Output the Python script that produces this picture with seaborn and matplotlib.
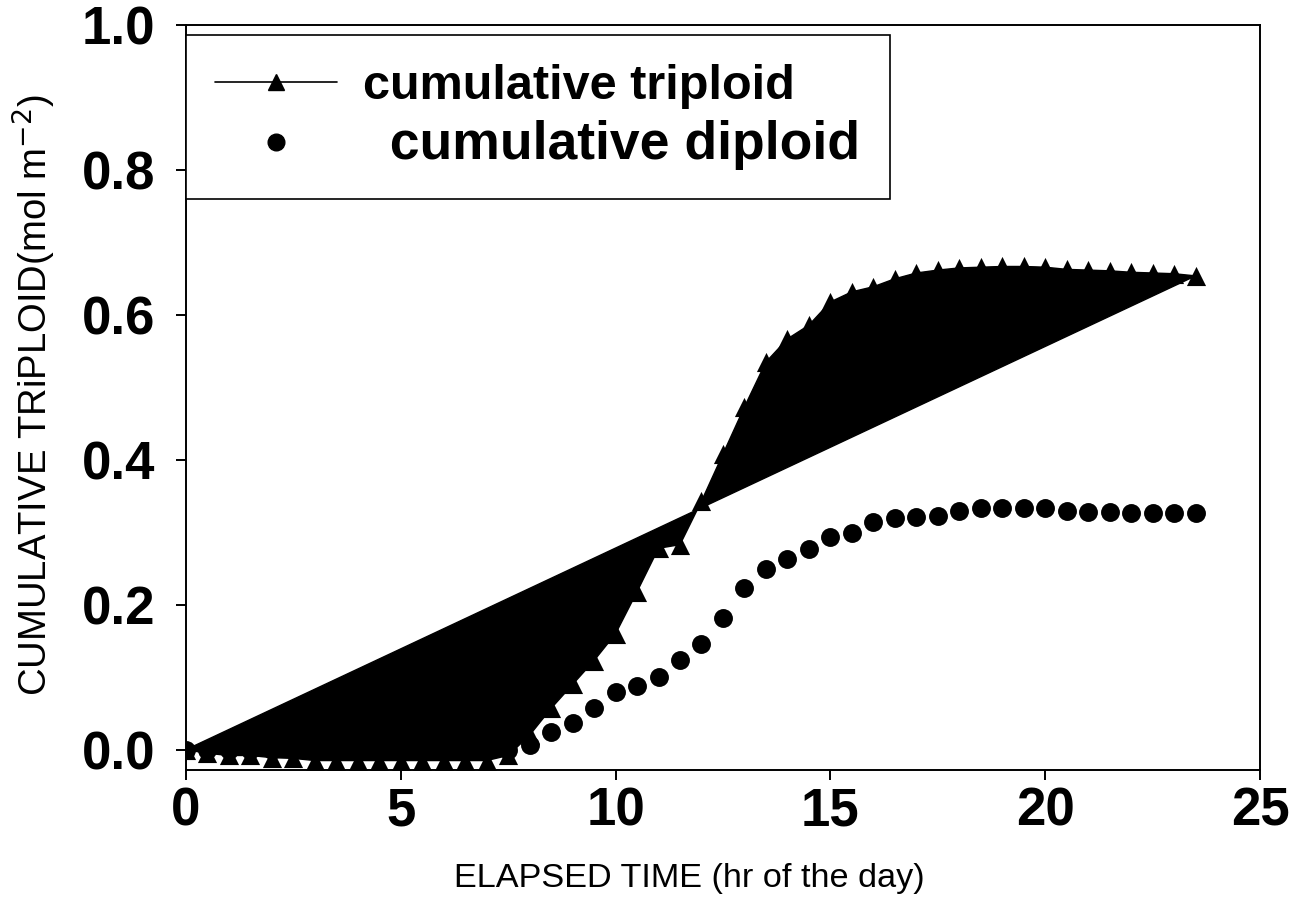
import matplotlib
matplotlib.use('Agg')
import matplotlib.pyplot as plt
from matplotlib.lines import Line2D
import pandas as pd
import seaborn as sns

# elapsed time (hr of the day), half-hour steps
hours = [0.0, 0.5, 1.0, 1.5, 2.0, 2.5, 3.0, 3.5, 4.0, 4.5, 5.0, 5.5,
         6.0, 6.5, 7.0, 7.5, 8.0, 8.5, 9.0, 9.5, 10.0, 10.5, 11.0, 11.5,
         12.0, 12.5, 13.0, 13.5, 14.0, 14.5, 15.0, 15.5, 16.0, 16.5, 17.0, 17.5,
         18.0, 18.5, 19.0, 19.5, 20.0, 20.5, 21.0, 21.5, 22.0, 22.5, 23.0, 23.5]

# cumulative triploid (mol m-2)
triploid = [0.0, -0.005, -0.008, -0.008, -0.011, -0.012, -0.015, -0.015, -0.015, -0.015, -0.015, -0.015,
            -0.015, -0.015, -0.015, -0.008, 0.020, 0.057, 0.090, 0.123, 0.160, 0.218, 0.278, 0.283,
            0.343, 0.408, 0.473, 0.535, 0.567, 0.586, 0.618, 0.632, 0.639, 0.650, 0.658, 0.662,
            0.665, 0.666, 0.667, 0.667, 0.666, 0.663, 0.662, 0.661, 0.659, 0.658, 0.657, 0.654]

# cumulative diploid (mol m-2)
diploid = [0.0, 0.0, 0.0, 0.0, 0.0, 0.0, 0.0, 0.0, 0.0, 0.0, 0.0, 0.0,
           0.0, 0.0, 0.0, 0.0, 0.007, 0.024, 0.037, 0.058, 0.079, 0.088, 0.100, 0.124,
           0.146, 0.182, 0.223, 0.250, 0.263, 0.277, 0.294, 0.299, 0.314, 0.320, 0.321, 0.323,
           0.330, 0.334, 0.334, 0.334, 0.333, 0.330, 0.328, 0.328, 0.327, 0.327, 0.327, 0.327]

x_ticks = [0, 5, 10, 15, 20, 25]
y_ticks = [0.0, 0.2, 0.4, 0.6, 0.8, 1.0]

df = pd.DataFrame({'hours': hours, 'triploid': triploid, 'diploid': diploid})

sns.set_style('ticks')
plt.rcParams['font.family'] = ['Liberation Sans', 'DejaVu Sans']
plt.rcParams['text.color'] = 'black'
plt.rcParams['axes.labelcolor'] = 'black'
plt.rcParams['xtick.color'] = 'black'
plt.rcParams['ytick.color'] = 'black'

fig = plt.figure(figsize=(12.91, 9.24), dpi=100)
ax = fig.add_axes([0.144, 0.1667, 0.832, 0.806])

# the triploid series was drawn as a closed, filled polygon
ax.fill(df['hours'], df['triploid'], color='black', linewidth=1)
sns.scatterplot(data=df, x='hours', y='triploid', marker='^', s=190, color='black',
                edgecolor='black', linewidth=0, ax=ax, zorder=3)
sns.scatterplot(data=df, x='hours', y='diploid', marker='o', s=185, color='black',
                edgecolor='black', linewidth=0, ax=ax, zorder=3)

ax.set_xlim(0, 25)
ax.set_ylim(-0.028, 1.0)
ax.set_xticks(x_ticks)
ax.set_yticks(y_ticks)
ax.set_xticklabels([str(t) for t in x_ticks], fontsize=38, fontweight='bold')
ax.set_yticklabels(['%.1f' % t for t in y_ticks], fontsize=38, fontweight='bold')
ax.tick_params(direction='out', length=7, width=1.4, pad=15)
ax.tick_params(axis='x', pad=5)
for sp in ax.spines.values():
    sp.set_visible(True)
    sp.set_linewidth(1.4)
    sp.set_color('black')

ax.set_xlabel('ELAPSED TIME (hr of the day)', fontsize=24.7)
ax.xaxis.set_label_coords(0.469, -0.125)
ax.set_ylabel('CUMULATIVE TRiPLOID(mol m$^{-2}$)', fontsize=27.5)
ax.yaxis.set_label_coords(-0.119, 0.503)

handles = [Line2D([0], [0], color='black', lw=1.2, marker='^', markersize=12),
           Line2D([0], [0], color='black', lw=0, marker='o', markersize=12)]
leg = ax.legend(handles, ['cumulative triploid', '\u2002cumulative diploid'],
                loc='upper left', bbox_to_anchor=(0.0, 0.5, 0.6555, 0.487), mode='expand',
                borderaxespad=0, prop={'size': 35, 'weight': 'bold'}, handlelength=2.5,
                handletextpad=0.55, borderpad=0.6, labelspacing=0.22,
                frameon=True, fancybox=False, framealpha=1)
leg.get_frame().set_edgecolor('black')
leg.get_frame().set_linewidth(1.2)
leg.get_texts()[1].set_fontsize(38.5)

fig.savefig('out.png', dpi=100)
